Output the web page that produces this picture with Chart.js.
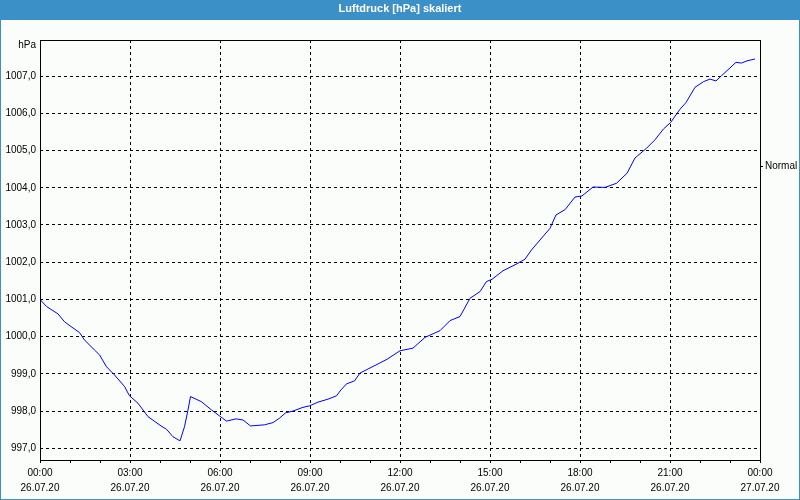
<!DOCTYPE html>
<html>
<head>
<meta charset="utf-8">
<script src="https://cdn.jsdelivr.net/npm/chart.js@4/dist/chart.umd.min.js"></script>
<style>
  body { margin: 0; background: #fbfdfb; }
  canvas { display: block; }
</style>
</head>
<body>
<canvas id="grafico" width="800" height="500"></canvas>
<script>
// minutes since 26.07.20 00:00
const minutes = [0, 13, 36, 49, 62, 79, 89, 109, 119, 133, 149, 169, 179, 196, 216, 242, 253, 266, 280, 289,
  296, 301, 323, 343, 359, 373, 392, 406, 421, 449, 466, 479, 491, 506, 526, 539, 556, 576, 593, 602,
  613, 629, 640, 656, 694, 720, 746, 770, 800, 820, 840, 860, 880, 893, 904, 926, 950, 970, 983, 1020,
  1032, 1050, 1070, 1084, 1106, 1130, 1153, 1174, 1190, 1213, 1230, 1247, 1261, 1280, 1292, 1310, 1327, 1340, 1352, 1363,
  1392, 1403, 1414, 1430];
const pressure = [1001.00, 1000.81, 1000.61, 1000.40, 1000.27, 1000.11, 999.91, 999.64, 999.51, 999.19, 998.97, 998.66, 998.41, 998.21, 997.85, 997.60, 997.51, 997.31, 997.20, 997.58,
  998.03, 998.39, 998.25, 998.03, 997.87, 997.73, 997.79, 997.76, 997.60, 997.63, 997.69, 997.81, 997.95, 998.00, 998.10, 998.14, 998.24, 998.32, 998.41, 998.57,
  998.73, 998.81, 999.02, 999.13, 999.39, 999.62, 999.69, 999.98, 1000.16, 1000.43, 1000.54, 1001.03, 1001.21, 1001.48, 1001.54, 1001.77, 1001.93, 1002.08, 1002.33, 1002.91,
  1003.27, 1003.41, 1003.75, 1003.78, 1004.02, 1004.01, 1004.12, 1004.39, 1004.80, 1005.06, 1005.29, 1005.58, 1005.75, 1006.11, 1006.29, 1006.70, 1006.85, 1006.92, 1006.87, 1007.01,
  1007.37, 1007.35, 1007.41, 1007.46];

const yTicks = [997, 998, 999, 1000, 1001, 1002, 1003, 1004, 1005, 1006, 1007];
const timeLabels = ['00:00', '03:00', '06:00', '09:00', '12:00', '15:00', '18:00', '21:00', '00:00'];
const dateLabels = ['26.07.20', '26.07.20', '26.07.20', '26.07.20', '26.07.20', '26.07.20', '26.07.20', '26.07.20', '27.07.20'];

const fontFam = '"Liberation Sans", Arial, sans-serif';
const blau = '#3c90c8';

const fondo = {
  id: 'fondo',
  beforeDraw(chart) {
    const c = chart.ctx;
    c.save();
    c.fillStyle = '#fbfdfb';
    c.fillRect(0, 0, chart.width, chart.height);
    c.fillStyle = blau;
    c.fillRect(0, 0, chart.width, 20);
    c.fillRect(0, 0, 1, chart.height);
    c.fillRect(chart.width - 1, 0, 1, chart.height);
    c.fillRect(0, chart.height - 1, chart.width, 1);
    c.restore();
  },
  afterDraw(chart) {
    const a = chart.chartArea;
    const c = chart.ctx;
    c.save();
    c.setLineDash([]);
    c.strokeStyle = '#000';
    c.lineWidth = 1;
    c.strokeRect(Math.round(a.left) + 0.5, Math.round(a.top) + 0.5,
      Math.round(a.right - a.left), Math.round(a.bottom - a.top));
    c.fillStyle = '#000';
    c.font = '10px ' + fontFam;
    c.textAlign = 'right';
    c.textBaseline = 'middle';
    c.fillText('hPa', a.left - 4, a.top + 5.5);
    c.restore();
  }
};

const graph = document.getElementById('grafico');
const myChart = new Chart(graph, {
  type: 'line',
  data: {
    datasets: [{
      label: 'Normal',
      data: minutes.map((m, i) => ({ x: m, y: pressure[i] })),
      borderColor: '#0000ff',
      borderWidth: 1,
      pointRadius: 0,
      tension: 0,
      fill: false
    }]
  },
  options: {
    responsive: false,
    animation: false,
    layout: { padding: 0 },
    plugins: {
      legend: { display: false },
      tooltip: { enabled: false },
      title: {
        display: true,
        text: 'Luftdruck [hPa] skaliert',
        color: '#ffffff',
        font: { family: fontFam, size: 11, weight: 'bold' },
        padding: { top: 2, bottom: 24.8 }
      }
    },
    scales: {
      x: {
        type: 'linear',
        min: 0,
        max: 1440,
        afterBuildTicks: (s) => {
          const t = [];
          for (let m = 0; m <= 1440; m += 60) t.push({ value: m });
          s.ticks = t;
        },
        afterFit: (s) => { s.height = 40; },
        grid: {
          color: (ctx) => (ctx.tick && ctx.tick.value % 180 === 0) ? '#000' : 'rgba(0,0,0,0)',
          tickColor: '#000',
          tickLength: 3,
          tickBorderDash: []
        },
        border: { display: false, dash: [3, 3] },
        ticks: {
          autoSkip: false,
          maxRotation: 0,
          padding: 3,
          color: '#000',
          font: { family: fontFam, size: 10, lineHeight: 1.5 },
          callback: (v) => v % 180 === 0 ? [timeLabels[v / 180], dateLabels[v / 180]] : ''
        }
      },
      y: {
        position: 'left',
        min: 996.685,
        max: 1007.97,
        afterBuildTicks: (s) => { s.ticks = yTicks.map((v) => ({ value: v })); },
        afterFit: (s) => { s.width = 40; },
        grid: { color: '#000', drawTicks: false, tickLength: 0 },
        border: { display: false, dash: [3, 3] },
        ticks: {
          padding: 4,
          color: '#000',
          font: { family: fontFam, size: 10 },
          callback: (v) => v.toFixed(1).replace('.', ',')
        }
      },
      y2: {
        position: 'right',
        min: 0,
        max: 1,
        afterBuildTicks: (s) => { s.ticks = [{ value: 0.7 }]; },
        afterFit: (s) => { s.width = 40; },
        grid: { drawOnChartArea: false, tickLength: 3, color: '#000' },
        border: { display: false },
        ticks: {
          padding: 2,
          color: '#000',
          font: { family: fontFam, size: 10 },
          callback: () => 'Normal'
        }
      }
    }
  },
  plugins: [fondo]
});
</script>
</body>
</html>
